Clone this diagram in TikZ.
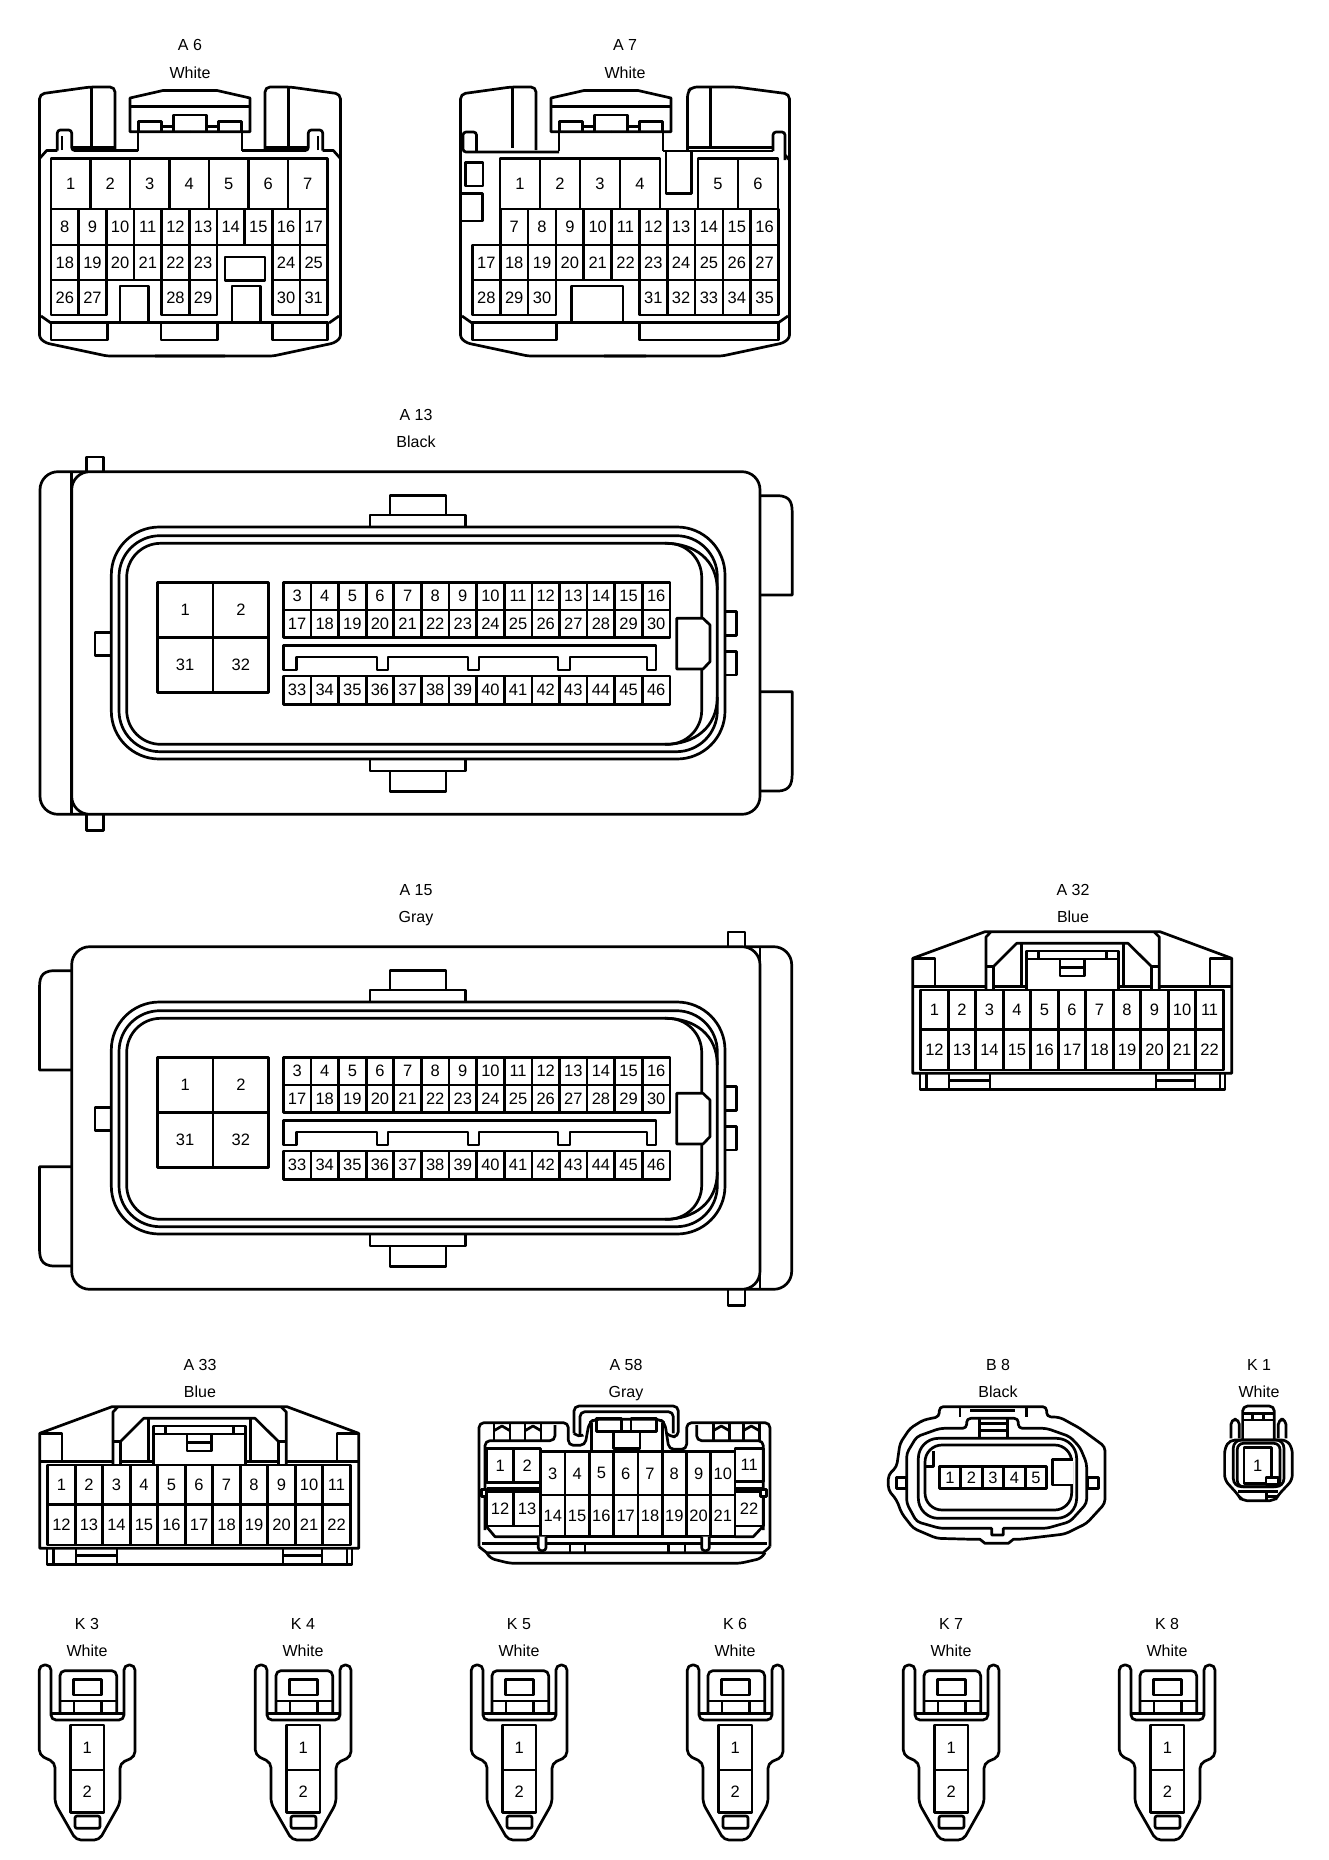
\documentclass[tikz,border=0pt]{standalone}
\usepackage{fontspec}
\setmainfont{Liberation Sans}
\tikzset{
	pinno/.style={inner sep=0,outer sep=0,font=\fontsize{16.5}{18}\selectfont},
	capt/.style={inner sep=0,outer sep=0,anchor=base,font=\fontsize{16}{18}\selectfont},
	lock/.style={rounded corners=5pt},
	blank/.style={fill=white}
}
\begin{document}
\begin{tikzpicture}[x=1pt,y=-1pt,line width=2.7pt,line join=round]
	\useasboundingbox (0,0) rectangle (1328,1860);
	\providecommand{\pinrow}[6]{
		\foreach \n [count=\i from 0] in {#6}
			{
				\draw ({#2+\i*#3},#4) rectangle ({#2+(\i+1)*#3},#5);
				\node[pinno] (#1-\n) at ({#2+(\i+.5)*#3},{(#4+#5)/2}) {\n};
			}
	}

	% captions
	\foreach \cid/\lbl/\colr/\x/\y in {a6/A 6/White/190/51,a7/A 7/White/625/51,a13/A 13/Black/416/420,a15/A 15/Gray/416/895,a32/A 32/Blue/1073/895,a33/A 33/Blue/200/1370,a58/A 58/Gray/626/1370,b8/B 8/Black/998/1370,k1/K 1/White/1259/1370,k3/K 3/White/87/1629,k4/K 4/White/303/1629,k5/K 5/White/519/1629,k6/K 6/White/735/1629,k7/K 7/White/951/1629,k8/K 8/White/1167/1629}
		{
			\node[capt] (\cid-id) at (\x,\y) {\lbl};
			\node[capt] (\cid-colr) at (\x,\y+27.5) {\colr};
		}

	\begin{scope} % A 6 and A 7
		% towers
		\foreach \dx/\sx in {0/1,380/-1,421/1}
			{
				\begin{scope}[shift={(\dx,0)},xscale=\sx]
					\draw[lock] (39.5,332) -- (39.5,94) -- (90,87) -- (115,87) -- (115,150);
					\draw (91.7,87) -- (91.7,148);
				\end{scope}
			}
		% latch
		\foreach \dx/\sx in {0/1,380/-1,421/1,801/-1}
			{
				\begin{scope}[shift={(\dx,0)},xscale=\sx]
					\draw (190,131.7) -- (130,131.7) -- (130,98) -- (163,90.5) -- (190,90.5);
					\draw (130,106.7) -- (190,106.7);
					\draw (138.3,131.7) |- (161.7,121.7) -- (161.7,131.7);
					\draw (161.7,126.7) -- (173.3,126.7);
					\draw (173.3,131.7) |- (190,115);
					\draw (138,131.7) -- (138,151);
				\end{scope}
			}
		% bottom edge
		\foreach \dx/\sx in {0/1,380/-1,421/1,829/-1}
			{
				\begin{scope}[shift={(\dx,0)},xscale=\sx]
					\draw[rounded corners=3pt] (39.5,325) -- (39.5,338) -- (46,343) -- (107,356) -- (225,356);
					\draw (41,316) -- (51,323);
				\end{scope}
			}
		% shoulders of A 6
		\foreach \dx/\sx in {0/1,380/-1}
			{
				\begin{scope}[shift={(\dx,0)},xscale=\sx]
					\draw (40,158) -- (46.7,150.5) -- (57.3,150.5);
					\draw[rounded corners=3pt] (57.3,150.5) -- (57.3,130) -- (71.7,130) -- (71.7,150.5) -- (138,150.5);
					\draw (72,147.5) -- (115,147.5);
					\draw (62,150) -- (62,136);
				\end{scope}
			}

		% A 6
		\pinrow{a6}{51}{39.5}{158.7}{209}{1,...,7}
		\pinrow{a6}{51}{27.65}{209}{245}{8,...,17}
		\pinrow{a6}{51}{27.65}{245}{280}{18,...,23}
		\pinrow{a6}{272.2}{27.65}{245}{280}{24,25}
		\pinrow{a6}{51}{27.65}{280}{315}{26,27}
		\pinrow{a6}{161.6}{27.65}{280}{315}{28,29}
		\pinrow{a6}{272.2}{27.65}{280}{315}{30,31}
		\draw (225,257) rectangle (265,280.7);
		\draw (51,322.7) -- (327.5,322.7);
		\foreach \x/\w in {51/56.5,161/56.5,272.2/55.3}
			\draw (\x,322.7) rectangle (\x+\w,340);
		\foreach \x in {120,232}
			\draw (\x,322.7) |- (\x+28.5,286) -- (\x+28.5,322.7);

		% A 7
		\draw[lock] (789.5,332) -- (789.5,94) -- (736,87) -- (692,87) -- (687.5,92) -- (687.5,150);
		\draw (710.5,87) -- (710.5,147);
		\draw (687.5,147.5) -- (773,147.5);
		\draw (663,151) -- (773,151);
		\draw[rounded corners=3pt] (773,151) -- (773,132) -- (785,132) -- (785,160);
		\draw (785,155) -- (789.5,160);
		\draw[rounded corners=3pt] (559,152) -- (463,152) -- (463,132) -- (476.5,132) -- (476.5,152);
		\draw (666,151) |- (691.5,193.3) -- (691.5,151);
		\draw (465.5,162.3) rectangle (483,186);
		\draw (460.5,193.3) -- (482.5,193.3) -- (482.5,221) -- (460.5,221);
		\pinrow{a7}{500}{40}{158.7}{209}{1,2,3,4}
		\pinrow{a7}{698}{40}{158.7}{209}{5,6}
		\pinrow{a7}{500.3}{27.82}{209}{245}{7,...,16}
		\pinrow{a7}{472.5}{27.82}{245}{280}{17,...,27}
		\pinrow{a7}{472.5}{27.82}{280}{315}{28,29,30}
		\pinrow{a7}{639.4}{27.82}{280}{315}{31,...,35}
		\draw (472.5,322.7) -- (778.5,322.7);
		\draw (472.5,322.7) rectangle (556.5,340);
		\draw (639.2,322.7) rectangle (778.5,340);
		\draw (571.5,322.7) |- (623,286) -- (623,322.7);
	\end{scope}

	% A 13 and A 15
	\foreach \cid/\dy/\sx in {a13/-475/-1,a15/0/1}
		{
			\begin{scope}[shift={(0,\dy)}]
				\begin{scope}[shift={(415.85,0)},xscale=\sx,shift={(-415.85,0)}] % frame
					\draw[rounded corners=18pt] (71.7,946.7) rectangle (760,1289.3);
					\draw[rounded corners=18pt] (745,946.7) -- (791.7,946.7) -- (791.7,1289.3) -- (745,1289.3);
					\draw (760,946.7) -- (760,1289.3);
					\draw (728,946.7) |- (745,932) -- (745,946.7);
					\draw (728,1289.3) |- (745,1305.7) -- (745,1289.3);
					\draw (71.7,970.7) -- (54.5,970.7) .. controls (39.5,970.7) and (39.5,980) .. (39.5,990) -- (39.5,1070) -- (71.7,1070);
					\draw (71.7,1266) -- (54.5,1266) .. controls (39.5,1266) and (39.5,1256) .. (39.5,1246) -- (39.5,1166.7) -- (71.7,1166.7);
				\end{scope}

				\draw[rounded corners=48pt] (111.3,1002) rectangle (725,1234);
				\draw[rounded corners=41pt] (119,1010.7) rectangle (717.3,1226.7);
				\draw[rounded corners=34pt] (126.7,1018.3) rectangle (701.7,1219.3);
				\draw (665,1018.3) .. controls (695,1018.3) and (717.3,1035) .. (717.3,1065);
				\draw (665,1219.3) .. controls (695,1219.3) and (717.3,1202) .. (717.3,1172);

				\draw (370,1002) |- (465.7,990) -- (465.7,1002);
				\draw (390,990) |- (446,970.7) -- (446,990);
				\draw (370,1234) |- (465.7,1246) -- (465.7,1234);
				\draw (390,1246) |- (446,1266.7) -- (446,1246);
				\draw (111.3,1107.3) -- (95,1107.3) -- (95,1130.7) -- (111.3,1130.7);
				\draw (725,1086.7) -- (736.7,1086.7) -- (736.7,1110.7) -- (725,1110.7);
				\draw (725,1126.7) -- (736.7,1126.7) -- (736.7,1150) -- (725,1150);
				\draw[blank] (676.7,1093.3) -- (703,1093.3) -- (710,1100) -- (710,1136.7) -- (703,1144) -- (676.7,1144) -- cycle;

				\draw (283.3,1145) -- (283.3,1120.7) -- (656,1120.7) -- (656,1145) -- (647,1145) -- (647,1132) -- (570,1132) -- (570,1145) -- (558,1145) -- (558,1132) -- (479,1132) -- (479,1145) -- (468,1145) -- (468,1132) -- (388,1132) -- (388,1145) -- (377,1145) -- (377,1132) -- (296.7,1132) -- (296.7,1145) -- cycle;

				\pinrow{\cid}{157.3}{55.7}{1057.3}{1112.7}{1,2}
				\pinrow{\cid}{157.3}{55.7}{1112.7}{1167.3}{31,32}
				\pinrow{\cid}{283.3}{27.62}{1057.3}{1085}{3,...,16}
				\pinrow{\cid}{283.3}{27.62}{1085}{1112.7}{17,...,30}
				\pinrow{\cid}{283.3}{27.62}{1151}{1179.3}{33,...,46}
			\end{scope}
		}

	% A 32 and A 33
	\foreach \cid/\dx/\dy in {a32/0/0,a33/-873/475}
		{
			\begin{scope}[shift={(\dx,\dy)}]
				\draw (912.7,1073.3) -- (912.7,958.3) -- (985,931.7) -- (1160,931.7) -- (1231.7,958.3) -- (1231.7,1073.3) -- cycle;
				\draw (912.7,958.3) -- (935,958.3) -- (935,986.7);
				\draw (1231.7,958.3) -- (1210,958.3) -- (1210,986.7);
				\draw (912.7,986.7) -- (986,986.7);
				\draw (993.3,986.7) -- (1026.7,986.7);
				\draw (1118.3,986.7) -- (1151.7,986.7);
				\draw (1159.3,986.7) -- (1231.7,986.7);
				\draw (986,990) -- (986,937) -- (991,931.7);
				\draw (1159.3,990) -- (1159.3,937) -- (1154,931.7);
				\draw (986,966.7) -- (993.3,966.7) -- (993.3,990);
				\draw (1159.3,966.7) -- (1151.7,966.7) -- (1151.7,990);
				\draw (993.3,966.7) -- (1016.7,943.3) -- (1128,943.3) -- (1151.7,966.7);
				\draw (1021.7,943.3) -- (1021.7,986.7);
				\draw (1123.3,943.3) -- (1123.3,986.7);
				\draw (1026.7,990) |- (1118.3,951) -- (1118.3,990);
				\draw (1026.7,959) -- (1118.3,959);
				\draw (1038.3,951) -- (1038.3,959);
				\draw (1106.7,951) -- (1106.7,959);
				\draw (1060,959) |- (1084.3,976) -- (1084.3,959);
				\draw (1060,967.3) -- (1084.3,967.3);
				\pinrow{\cid}{920.7}{27.51}{990}{1029.3}{1,...,11}
				\pinrow{\cid}{920.7}{27.51}{1029.3}{1070}{12,...,22}
				\draw (920,1073.3) |- (1225,1089.3) -- (1225,1073.3);
				\foreach \x in {926.7,949,990,1156,1195,1220}
					\draw (\x,1073.3) -- (\x,1089.3);
				\draw (949,1080.7) -- (990,1080.7);
				\draw (1156,1080.7) -- (1195,1080.7);
			\end{scope}
		}

	\begin{scope}[shift={(470,1400)},x=0.3333pt,y=-0.3333pt] % A 58
		\draw[lock] (27,440) -- (27,68) -- (295,68) -- (295,136) -- (345,136) -- (357,70) -- (372,58) -- (570,58) -- (585,70) -- (597,148) -- (650,148) -- (650,68) -- (900,68) -- (900,440);
		\draw[lock] (45,390) -- (45,122) -- (255,122) -- (255,75);
		\draw[lock] (880,390) -- (880,122) -- (680,122) -- (680,75);
		\foreach \x in {72,165,730,820}
			{
				\draw (\x,70) -- (\x,122);
				\draw (\x+48,70) -- (\x+48,122);
				\draw (\x,92) -- (\x+24,78) -- (\x+48,92);
			}
		\draw[lock] (312,100) -- (312,18) -- (625,18) -- (625,110) -- (600,110) -- (590,100);
		\draw[lock] (312,100) -- (325,112) -- (340,105);
		\draw[lock] (330,105) -- (330,35) -- (610,35) -- (610,100);
		\draw (380,55) rectangle (455,95);
		\draw (483,55) rectangle (560,95);
		\draw (430,95) rectangle (510,145);
		\draw (365,70) -- (365,150);
		\draw (578,70) -- (578,150);
		\pinrow{a58}{50}{81}{145}{248}{1,2}
		\pinrow{a58}{50}{81}{275}{378}{12,13}
		\pinrow{a58}{212}{72.9}{155}{285}{3,...,10}
		\pinrow{a58}{212}{72.9}{285}{410}{14,...,21}
		\pinrow{a58}{795}{85}{145}{245}{11}
		\pinrow{a58}{795}{85}{275}{378}{22}
		\draw (50,265) -- (212,265);
		\draw (795,265) -- (880,265);
		\draw (48,378) -- (75,410) -- (212,410);
		\draw (795,410) -- (850,410) -- (880,378);
		\draw (35,430) -- (890,430);
		\draw (27,440) -- (50,458) -- (880,458) -- (900,440);
		\draw[lock] (50,458) -- (60,475) -- (120,490) -- (810,490) -- (875,475) -- (885,458);
		\foreach \x in {205,695}
			\draw[blank,rounded corners=3pt] (\x,410) -- (\x,452) -- (\x+23,452) -- (\x+23,410);
		\foreach \x in {300,345,595,645}
			\draw (\x,430) -- (\x,458);
		\draw[blank] (35,268) rectangle (50,290);
		\draw[blank] (872,268) rectangle (890,290);
	\end{scope}

	\begin{scope}[shift={(880,1360)},x=0.3333pt,y=-0.3333pt] % B 8
		\draw[rounded corners=4pt] (178,170) -- (178,140) -- (500,140) -- (500,170) -- (540,172) -- (600,205) -- (675,260) -- (675,430) -- (620,490) -- (555,522) -- (420,538) [sharp corners] -- (400,538) -- (385,550) -- (315,550) -- (300,538) [rounded corners=4pt] -- (280,538) -- (170,535) -- (100,505) -- (65,460) -- (50,420) -- (25,390) -- (25,345) -- (50,320) -- (60,250) -- (90,205) -- (130,180) -- cycle;
		\draw[rounded corners=4pt] (260,205) -- (260,175) -- (415,175) -- (415,205) -- (500,205) -- (570,230) -- (600,262) -- (620,310) -- (620,430) -- (570,485) -- (500,505) -- (420,505) [sharp corners] -- (370,505) -- (370,525) -- (335,525) -- (335,505) [rounded corners=4pt] -- (180,505) -- (110,485) -- (80,430) -- (80,280) -- (110,230) -- (180,205) -- cycle;
		\draw[rounded corners=20pt] (115,235) rectangle (590,475);
		\draw[rounded corners=17pt] (135,255) rectangle (575,450);
		\pinrow{b8}{178}{64.4}{320}{385}{1,...,5}
		\draw (240,170) -- (240,145);
		\draw (440,170) -- (440,145);
		\draw (270,152) -- (405,152);
		\draw (298,175) -- (298,235);
		\draw (382,175) -- (382,235);
		\draw (298,190) -- (382,190);
		\draw (298,212) -- (382,212);
		\draw (50,352) rectangle (80,385);
		\draw (622,352) rectangle (655,385);
		\draw[blank] (578,375) -- (518,375) -- (518,298) -- (578,298);
		\draw (135,320) -- (160,320) -- (160,272);
	\end{scope}

	\begin{scope}[shift={(880,1360)},x=0.3333pt,y=-0.3333pt] % K 1
		\draw[lock] (1088,240) -- (1088,138) -- (1183,138) -- (1183,240);
		\draw (1088,160) -- (1183,160);
		\draw (1088,180) -- (1183,180);
		\draw (1118,160) -- (1118,180);
		\draw (1150,160) -- (1150,180);
		\draw[lock] (1053,235) -- (1053,178) -- (1078,178) -- (1078,235);
		\draw[lock] (1195,235) -- (1195,178) -- (1218,178) -- (1218,235);
		\draw[lock] (1050,240) -- (1034,265) -- (1034,360) -- (1075,405) -- (1085,422) -- (1185,422) -- (1195,405) -- (1237,360) -- (1237,265) -- (1220,240) -- cycle;
		\draw[rounded corners=8pt] (1060,240) rectangle (1212,380);
		\draw[rounded corners=6pt] (1072,250) rectangle (1200,380);
		\pinrow{k1}{1092}{83}{262}{370}{1}
		\draw[blank] (1158,352) rectangle (1196,373);
		\draw (1075,395) -- (1195,395);
		\draw (1160,410) -- (1190,410);
		\draw (1160,395) -- (1160,422);
	\end{scope}

	% K 3 to K 8
	\foreach \n [count=\i from 0] in {3,...,8}
		{
			\begin{scope}[shift={(\i*216,1620)},x=0.3333pt,y=-0.3333pt]
				\draw[lock] (118,405) -- (165,428) -- (165,550) -- (228,660) -- (298,660) -- (360,550) -- (360,430) -- (405,410) -- (405,135) -- (372,135) -- (372,300) -- (153,300) -- (153,135) -- (118,135) -- cycle;
				\draw (153,280) -- (372,280);
				\draw[lock] (180,280) -- (180,152) -- (350,152) -- (350,280);
				\draw (220,178) rectangle (305,225);
				\draw (180,243) -- (350,243);
				\draw (222,243) -- (222,275);
				\draw (305,243) -- (305,275);
				\pinrow{k\n}{212}{100}{315}{450}{1}
				\pinrow{k\n}{212}{100}{450}{578}{2}
				\draw[rounded corners=2pt] (225,588) rectangle (300,625);
			\end{scope}
		}
\end{tikzpicture}
\end{document}
